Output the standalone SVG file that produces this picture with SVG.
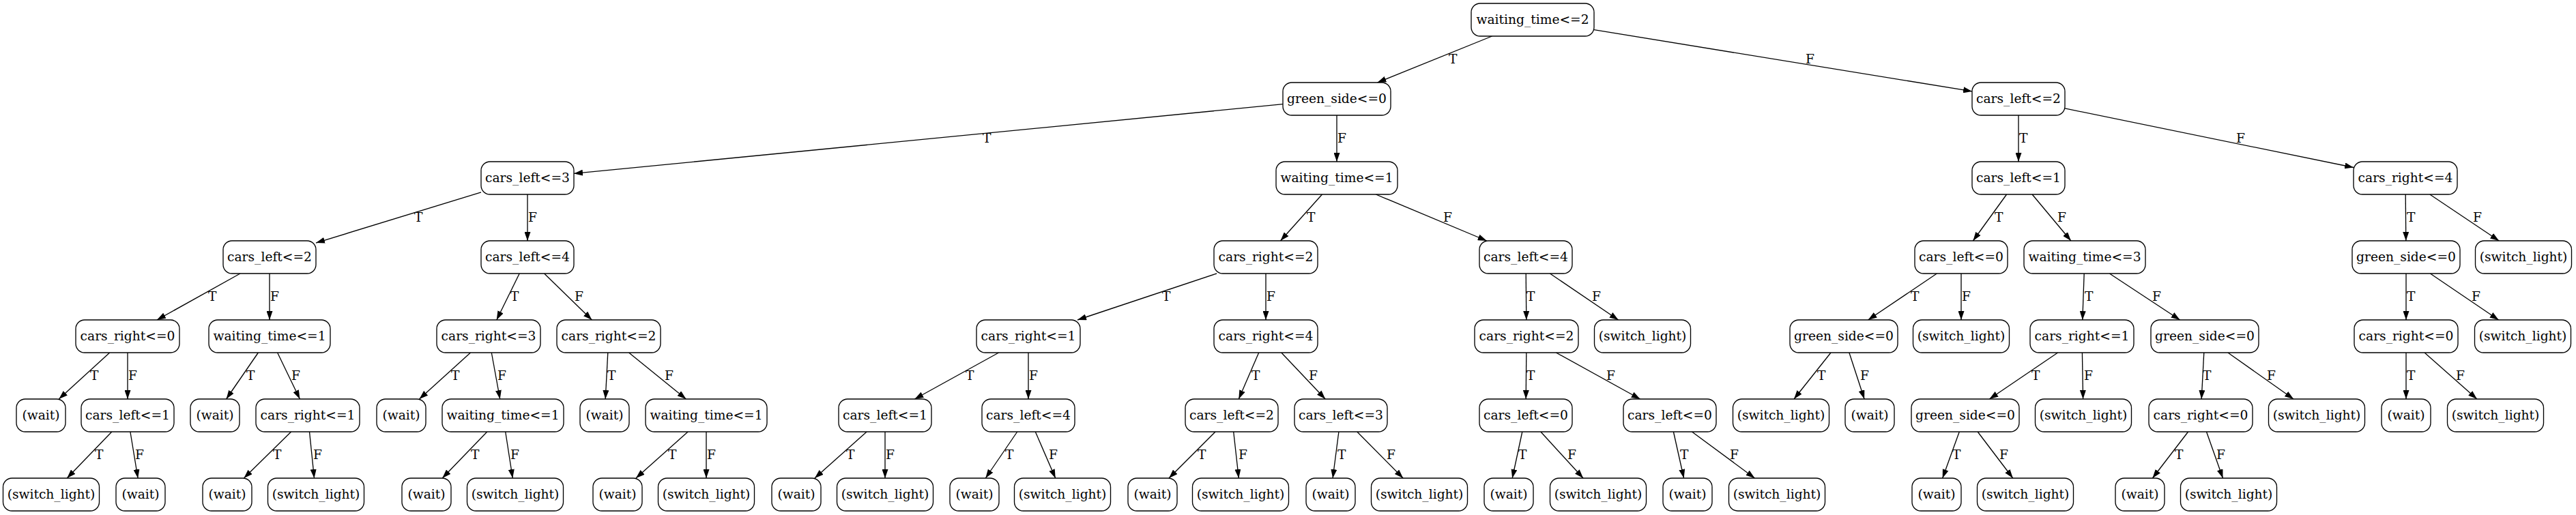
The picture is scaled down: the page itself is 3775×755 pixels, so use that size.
<svg xmlns="http://www.w3.org/2000/svg" width="3775" height="755" viewBox="0 0 3775 755">
<style>
.n rect{fill:#fff;stroke:#000;stroke-width:1.33}
.n text{font-family:"DejaVu Serif",serif;font-size:18.67px;text-anchor:middle;fill:#000}
.e line{stroke:#000;stroke-width:1.33;marker-end:url(#ah)}
.e text{font-family:"DejaVu Serif",serif;font-size:18.67px;fill:#000}
</style>
<defs>
<marker id="ah" markerWidth="13" markerHeight="9" refX="13" refY="4.5" orient="auto" markerUnits="userSpaceOnUse"><path d="M0,0L13,4.5L0,9z" fill="#000"/></marker>
</defs>
<rect width="3775" height="755" fill="#fff"/>
<g id="connectors" class="e">
<line x1="2186.6" y1="53" x2="2018.4" y2="121"/><text x="2123" y="93">T</text>
<line x1="2336" y1="43.7" x2="2890" y2="133.9"/><text x="2646" y="93">F</text>
<line x1="1880" y1="152.7" x2="841" y2="254.4"/><text x="1440" y="209">T</text>
<line x1="1959" y1="169" x2="1959" y2="237"/><text x="1960" y="209">F</text>
<line x1="2958" y1="169" x2="2958" y2="237"/><text x="2959" y="209">T</text>
<line x1="3026" y1="158.9" x2="3449" y2="245.5"/><text x="3277" y="209">F</text>
<line x1="705" y1="281.9" x2="463" y2="356.1"/><text x="607" y="325">T</text>
<line x1="773" y1="285" x2="773" y2="353"/><text x="774" y="325">F</text>
<line x1="1937.5" y1="285" x2="1876.5" y2="353"/><text x="1915" y="325">T</text>
<line x1="2016.3" y1="285" x2="2178.7" y2="353"/><text x="2115" y="325">F</text>
<line x1="2940.6" y1="285" x2="2891.4" y2="353"/><text x="2923" y="325">T</text>
<line x1="2978.1" y1="285" x2="3034.9" y2="353"/><text x="3015" y="325">F</text>
<line x1="3525.2" y1="285" x2="3525.8" y2="353"/><text x="3527" y="325">T</text>
<line x1="3560.8" y1="285" x2="3662.2" y2="353"/><text x="3624" y="325">F</text>
<line x1="352" y1="401" x2="230" y2="469"/><text x="305" y="441">T</text>
<line x1="395" y1="401" x2="395" y2="469"/><text x="396" y="441">F</text>
<line x1="761.2" y1="401" x2="727.8" y2="469"/><text x="748" y="441">T</text>
<line x1="797.6" y1="401" x2="867.4" y2="469"/><text x="842" y="441">F</text>
<line x1="1783" y1="401" x2="1579" y2="469"/><text x="1703" y="441">T</text>
<line x1="1855" y1="401" x2="1855" y2="469"/><text x="1856" y="441">F</text>
<line x1="2236.2" y1="401" x2="2236.8" y2="469"/><text x="2237" y="441">T</text>
<line x1="2271.4" y1="401" x2="2371.6" y2="469"/><text x="2333" y="441">F</text>
<line x1="2838.4" y1="401" x2="2737.6" y2="469"/><text x="2800" y="441">T</text>
<line x1="2874" y1="401" x2="2874" y2="469"/><text x="2875" y="441">F</text>
<line x1="3054.2" y1="401" x2="3051.8" y2="469"/><text x="3055" y="441">T</text>
<line x1="3091.4" y1="401" x2="3194.6" y2="469"/><text x="3154" y="441">F</text>
<line x1="3526" y1="401" x2="3526" y2="469"/><text x="3527" y="441">T</text>
<line x1="3561.4" y1="401" x2="3661.6" y2="469"/><text x="3622" y="441">F</text>
<line x1="160.7" y1="517" x2="86.3" y2="585"/><text x="132" y="557">T</text>
<line x1="187" y1="517" x2="187" y2="585"/><text x="188" y="557">F</text>
<line x1="378.4" y1="517" x2="331.6" y2="585"/><text x="361" y="557">T</text>
<line x1="406.6" y1="517" x2="439.4" y2="585"/><text x="427" y="557">F</text>
<line x1="689.5" y1="517" x2="614.5" y2="585"/><text x="661" y="557">T</text>
<line x1="720.3" y1="517" x2="732.7" y2="585"/><text x="729" y="557">F</text>
<line x1="890.8" y1="517" x2="887.2" y2="585"/><text x="890" y="557">T</text>
<line x1="921.6" y1="517" x2="1005.4" y2="585"/><text x="974" y="557">F</text>
<line x1="1463.6" y1="517" x2="1340.4" y2="585"/><text x="1415" y="557">T</text>
<line x1="1507" y1="517" x2="1507" y2="585"/><text x="1508" y="557">F</text>
<line x1="1844.7" y1="517" x2="1815.3" y2="585"/><text x="1834" y="557">T</text>
<line x1="1877.8" y1="517" x2="1942.2" y2="585"/><text x="1918" y="557">F</text>
<line x1="2236.8" y1="517" x2="2236.2" y2="585"/><text x="2237" y="557">T</text>
<line x1="2280.4" y1="517" x2="2403.6" y2="585"/><text x="2354" y="557">F</text>
<line x1="2683" y1="517" x2="2629" y2="585"/><text x="2663" y="557">T</text>
<line x1="2709.9" y1="517" x2="2732.1" y2="585"/><text x="2726" y="557">F</text>
<line x1="3015.6" y1="517" x2="2915.4" y2="585"/><text x="2977" y="557">T</text>
<line x1="3051.4" y1="517" x2="3052.6" y2="585"/><text x="3054" y="557">F</text>
<line x1="3229.8" y1="517" x2="3226.2" y2="585"/><text x="3228" y="557">T</text>
<line x1="3264.9" y1="517" x2="3361.1" y2="585"/><text x="3322" y="557">F</text>
<line x1="3526" y1="517" x2="3526" y2="585"/><text x="3527" y="557">T</text>
<line x1="3553.1" y1="517" x2="3629.9" y2="585"/><text x="3599" y="557">F</text>
<line x1="163.8" y1="633" x2="98.2" y2="701"/><text x="139" y="673">T</text>
<line x1="190.9" y1="633" x2="202.1" y2="701"/><text x="198" y="673">F</text>
<line x1="426.6" y1="633" x2="357.4" y2="701"/><text x="400" y="673">T</text>
<line x1="453.5" y1="633" x2="460.5" y2="701"/><text x="459" y="673">F</text>
<line x1="713.8" y1="633" x2="648.2" y2="701"/><text x="690" y="673">T</text>
<line x1="740.7" y1="633" x2="751.3" y2="701"/><text x="748" y="673">F</text>
<line x1="1008.1" y1="633" x2="931.9" y2="701"/><text x="979" y="673">T</text>
<line x1="1035" y1="633" x2="1035" y2="701"/><text x="1036" y="673">F</text>
<line x1="1270.1" y1="633" x2="1193.9" y2="701"/><text x="1240" y="673">T</text>
<line x1="1297" y1="633" x2="1297" y2="701"/><text x="1298" y="673">F</text>
<line x1="1490.7" y1="633" x2="1444.3" y2="701"/><text x="1473" y="673">T</text>
<line x1="1517.3" y1="633" x2="1546.7" y2="701"/><text x="1537" y="673">F</text>
<line x1="1781" y1="633" x2="1713" y2="701"/><text x="1755" y="673">T</text>
<line x1="1807.7" y1="633" x2="1815.3" y2="701"/><text x="1815" y="673">F</text>
<line x1="1961.9" y1="633" x2="1953.1" y2="701"/><text x="1960" y="673">T</text>
<line x1="1988.8" y1="633" x2="2056.2" y2="701"/><text x="2032" y="673">F</text>
<line x1="2230.8" y1="633" x2="2216.2" y2="701"/><text x="2225" y="673">T</text>
<line x1="2257.9" y1="633" x2="2320.1" y2="701"/><text x="2297" y="673">F</text>
<line x1="2452.4" y1="633" x2="2467.6" y2="701"/><text x="2462" y="673">T</text>
<line x1="2479.5" y1="633" x2="2571.5" y2="701"/><text x="2535" y="673">F</text>
<line x1="2871.3" y1="633" x2="2846.7" y2="701"/><text x="2861" y="673">T</text>
<line x1="2898.2" y1="633" x2="2949.8" y2="701"/><text x="2930" y="673">F</text>
<line x1="3206.6" y1="633" x2="3154.4" y2="701"/><text x="3187" y="673">T</text>
<line x1="3233.5" y1="633" x2="3257.5" y2="701"/><text x="3248" y="673">F</text>
</g>
<g id="n0" class="n"><rect x="2156" y="5" width="180" height="48" rx="13"/><text x="2246" y="35">waiting_time&lt;=2</text></g>
<g id="n1" class="n"><rect x="1880" y="121" width="158" height="48" rx="13"/><text x="1959" y="151">green_side&lt;=0</text></g>
<g id="n2" class="n"><rect x="2890" y="121" width="136" height="48" rx="13"/><text x="2958" y="151">cars_left&lt;=2</text></g>
<g id="n3" class="n"><rect x="705" y="237" width="136" height="48" rx="13"/><text x="773" y="267">cars_left&lt;=3</text></g>
<g id="n4" class="n"><rect x="1870" y="237" width="178" height="48" rx="13"/><text x="1959" y="267">waiting_time&lt;=1</text></g>
<g id="n5" class="n"><rect x="2890" y="237" width="136" height="48" rx="13"/><text x="2958" y="267">cars_left&lt;=1</text></g>
<g id="n6" class="n"><rect x="3449" y="237" width="152" height="48" rx="13"/><text x="3525" y="267">cars_right&lt;=4</text></g>
<g id="n7" class="n"><rect x="327" y="353" width="136" height="48" rx="13"/><text x="395" y="383">cars_left&lt;=2</text></g>
<g id="n8" class="n"><rect x="705" y="353" width="136" height="48" rx="13"/><text x="773" y="383">cars_left&lt;=4</text></g>
<g id="n9" class="n"><rect x="1779" y="353" width="152" height="48" rx="13"/><text x="1855" y="383">cars_right&lt;=2</text></g>
<g id="n10" class="n"><rect x="2168" y="353" width="136" height="48" rx="13"/><text x="2236" y="383">cars_left&lt;=4</text></g>
<g id="n11" class="n"><rect x="2806" y="353" width="136" height="48" rx="13"/><text x="2874" y="383">cars_left&lt;=0</text></g>
<g id="n12" class="n"><rect x="2966" y="353" width="178" height="48" rx="13"/><text x="3055" y="383">waiting_time&lt;=3</text></g>
<g id="n13" class="n"><rect x="3447" y="353" width="158" height="48" rx="13"/><text x="3526" y="383">green_side&lt;=0</text></g>
<g id="n14" class="n"><rect x="3627.5" y="353" width="141" height="48" rx="13"/><text x="3698" y="383">(switch_light)</text></g>
<g id="n15" class="n"><rect x="111" y="469" width="152" height="48" rx="13"/><text x="187" y="499">cars_right&lt;=0</text></g>
<g id="n16" class="n"><rect x="306" y="469" width="178" height="48" rx="13"/><text x="395" y="499">waiting_time&lt;=1</text></g>
<g id="n17" class="n"><rect x="640" y="469" width="152" height="48" rx="13"/><text x="716" y="499">cars_right&lt;=3</text></g>
<g id="n18" class="n"><rect x="816" y="469" width="152" height="48" rx="13"/><text x="892" y="499">cars_right&lt;=2</text></g>
<g id="n19" class="n"><rect x="1431" y="469" width="152" height="48" rx="13"/><text x="1507" y="499">cars_right&lt;=1</text></g>
<g id="n20" class="n"><rect x="1779" y="469" width="152" height="48" rx="13"/><text x="1855" y="499">cars_right&lt;=4</text></g>
<g id="n21" class="n"><rect x="2161" y="469" width="152" height="48" rx="13"/><text x="2237" y="499">cars_right&lt;=2</text></g>
<g id="n22" class="n"><rect x="2336.5" y="469" width="141" height="48" rx="13"/><text x="2407" y="499">(switch_light)</text></g>
<g id="n23" class="n"><rect x="2623" y="469" width="158" height="48" rx="13"/><text x="2702" y="499">green_side&lt;=0</text></g>
<g id="n24" class="n"><rect x="2803.5" y="469" width="141" height="48" rx="13"/><text x="2874" y="499">(switch_light)</text></g>
<g id="n25" class="n"><rect x="2975" y="469" width="152" height="48" rx="13"/><text x="3051" y="499">cars_right&lt;=1</text></g>
<g id="n26" class="n"><rect x="3152" y="469" width="158" height="48" rx="13"/><text x="3231" y="499">green_side&lt;=0</text></g>
<g id="n27" class="n"><rect x="3450" y="469" width="152" height="48" rx="13"/><text x="3526" y="499">cars_right&lt;=0</text></g>
<g id="n28" class="n"><rect x="3626.5" y="469" width="141" height="48" rx="13"/><text x="3697" y="499">(switch_light)</text></g>
<g id="n29" class="n"><rect x="24" y="585" width="72" height="48" rx="13"/><text x="60" y="615">(wait)</text></g>
<g id="n30" class="n"><rect x="119" y="585" width="136" height="48" rx="13"/><text x="187" y="615">cars_left&lt;=1</text></g>
<g id="n31" class="n"><rect x="279" y="585" width="72" height="48" rx="13"/><text x="315" y="615">(wait)</text></g>
<g id="n32" class="n"><rect x="375" y="585" width="152" height="48" rx="13"/><text x="451" y="615">cars_right&lt;=1</text></g>
<g id="n33" class="n"><rect x="552" y="585" width="72" height="48" rx="13"/><text x="588" y="615">(wait)</text></g>
<g id="n34" class="n"><rect x="648" y="585" width="178" height="48" rx="13"/><text x="737" y="615">waiting_time&lt;=1</text></g>
<g id="n35" class="n"><rect x="850" y="585" width="72" height="48" rx="13"/><text x="886" y="615">(wait)</text></g>
<g id="n36" class="n"><rect x="946" y="585" width="178" height="48" rx="13"/><text x="1035" y="615">waiting_time&lt;=1</text></g>
<g id="n37" class="n"><rect x="1229" y="585" width="136" height="48" rx="13"/><text x="1297" y="615">cars_left&lt;=1</text></g>
<g id="n38" class="n"><rect x="1439" y="585" width="136" height="48" rx="13"/><text x="1507" y="615">cars_left&lt;=4</text></g>
<g id="n39" class="n"><rect x="1737" y="585" width="136" height="48" rx="13"/><text x="1805" y="615">cars_left&lt;=2</text></g>
<g id="n40" class="n"><rect x="1897" y="585" width="136" height="48" rx="13"/><text x="1965" y="615">cars_left&lt;=3</text></g>
<g id="n41" class="n"><rect x="2168" y="585" width="136" height="48" rx="13"/><text x="2236" y="615">cars_left&lt;=0</text></g>
<g id="n42" class="n"><rect x="2379" y="585" width="136" height="48" rx="13"/><text x="2447" y="615">cars_left&lt;=0</text></g>
<g id="n43" class="n"><rect x="2539.5" y="585" width="141" height="48" rx="13"/><text x="2610" y="615">(switch_light)</text></g>
<g id="n44" class="n"><rect x="2704" y="585" width="72" height="48" rx="13"/><text x="2740" y="615">(wait)</text></g>
<g id="n45" class="n"><rect x="2801" y="585" width="158" height="48" rx="13"/><text x="2880" y="615">green_side&lt;=0</text></g>
<g id="n46" class="n"><rect x="2982.5" y="585" width="141" height="48" rx="13"/><text x="3053" y="615">(switch_light)</text></g>
<g id="n47" class="n"><rect x="3149" y="585" width="152" height="48" rx="13"/><text x="3225" y="615">cars_right&lt;=0</text></g>
<g id="n48" class="n"><rect x="3324.5" y="585" width="141" height="48" rx="13"/><text x="3395" y="615">(switch_light)</text></g>
<g id="n49" class="n"><rect x="3490" y="585" width="72" height="48" rx="13"/><text x="3526" y="615">(wait)</text></g>
<g id="n50" class="n"><rect x="3586.5" y="585" width="141" height="48" rx="13"/><text x="3657" y="615">(switch_light)</text></g>
<g id="n51" class="n"><rect x="4.5" y="701" width="141" height="48" rx="13"/><text x="75" y="731">(switch_light)</text></g>
<g id="n52" class="n"><rect x="170" y="701" width="72" height="48" rx="13"/><text x="206" y="731">(wait)</text></g>
<g id="n53" class="n"><rect x="297" y="701" width="72" height="48" rx="13"/><text x="333" y="731">(wait)</text></g>
<g id="n54" class="n"><rect x="392.5" y="701" width="141" height="48" rx="13"/><text x="463" y="731">(switch_light)</text></g>
<g id="n55" class="n"><rect x="589" y="701" width="72" height="48" rx="13"/><text x="625" y="731">(wait)</text></g>
<g id="n56" class="n"><rect x="684.5" y="701" width="141" height="48" rx="13"/><text x="755" y="731">(switch_light)</text></g>
<g id="n57" class="n"><rect x="869" y="701" width="72" height="48" rx="13"/><text x="905" y="731">(wait)</text></g>
<g id="n58" class="n"><rect x="964.5" y="701" width="141" height="48" rx="13"/><text x="1035" y="731">(switch_light)</text></g>
<g id="n59" class="n"><rect x="1131" y="701" width="72" height="48" rx="13"/><text x="1167" y="731">(wait)</text></g>
<g id="n60" class="n"><rect x="1226.5" y="701" width="141" height="48" rx="13"/><text x="1297" y="731">(switch_light)</text></g>
<g id="n61" class="n"><rect x="1392" y="701" width="72" height="48" rx="13"/><text x="1428" y="731">(wait)</text></g>
<g id="n62" class="n"><rect x="1486.5" y="701" width="141" height="48" rx="13"/><text x="1557" y="731">(switch_light)</text></g>
<g id="n63" class="n"><rect x="1653" y="701" width="72" height="48" rx="13"/><text x="1689" y="731">(wait)</text></g>
<g id="n64" class="n"><rect x="1747.5" y="701" width="141" height="48" rx="13"/><text x="1818" y="731">(switch_light)</text></g>
<g id="n65" class="n"><rect x="1914" y="701" width="72" height="48" rx="13"/><text x="1950" y="731">(wait)</text></g>
<g id="n66" class="n"><rect x="2009.5" y="701" width="141" height="48" rx="13"/><text x="2080" y="731">(switch_light)</text></g>
<g id="n67" class="n"><rect x="2175" y="701" width="72" height="48" rx="13"/><text x="2211" y="731">(wait)</text></g>
<g id="n68" class="n"><rect x="2271.5" y="701" width="141" height="48" rx="13"/><text x="2342" y="731">(switch_light)</text></g>
<g id="n69" class="n"><rect x="2437" y="701" width="72" height="48" rx="13"/><text x="2473" y="731">(wait)</text></g>
<g id="n70" class="n"><rect x="2533.5" y="701" width="141" height="48" rx="13"/><text x="2604" y="731">(switch_light)</text></g>
<g id="n71" class="n"><rect x="2802" y="701" width="72" height="48" rx="13"/><text x="2838" y="731">(wait)</text></g>
<g id="n72" class="n"><rect x="2897.5" y="701" width="141" height="48" rx="13"/><text x="2968" y="731">(switch_light)</text></g>
<g id="n73" class="n"><rect x="3100" y="701" width="72" height="48" rx="13"/><text x="3136" y="731">(wait)</text></g>
<g id="n74" class="n"><rect x="3195.5" y="701" width="141" height="48" rx="13"/><text x="3266" y="731">(switch_light)</text></g>
</svg>
